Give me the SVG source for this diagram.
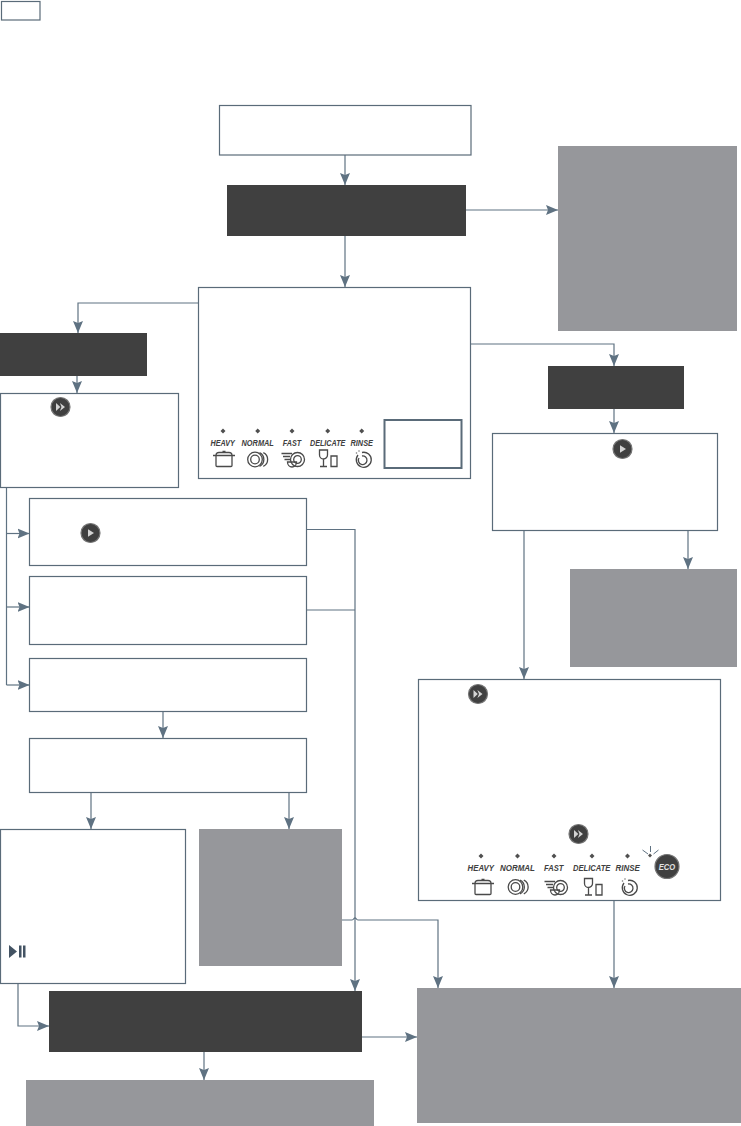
<svg xmlns="http://www.w3.org/2000/svg" width="741" height="1126" viewBox="0 0 741 1126">
<style>
.box{fill:#fff;stroke:#5a6b79;stroke-width:1.2}
.dark{fill:#404040}
.gray{fill:#96979b}
.c{fill:none;stroke:#5f7282;stroke-width:1.2}
.a{marker-end:url(#arrow)}
.lb{font-family:"Liberation Sans",Arial,sans-serif;font-weight:700;font-style:italic;fill:#404040;text-anchor:middle}
.ic{fill:none;stroke:#4a4a4a;stroke-width:1.3}
.btn{fill:#404040;stroke:#757575;stroke-width:1.2}
.gl{fill:#d4d4d4}
.d{fill:#505050}
</style>
<defs>
<marker id="arrow" markerUnits="userSpaceOnUse" markerWidth="13" markerHeight="12" refX="12" refY="6" orient="auto">
<path d="M0 1L12 6L0 11L2 6Z" fill="#5f7282"/>
</marker>
<g id="ff"><circle class="btn" r="9.500"/><path class="gl" d="M-4.500-4L-.2 0L-4.500 4ZM-.6-4L4.500 0L-.6 4L1 0Z"/></g>
<g id="play"><circle class="btn" r="9.500"/><path class="gl" d="M-2.500-3.800L3.500 0L-2.500 3.800Z"/></g>
<g id="pot" class="ic"><path d="M-8-3.500V6.500Q-8 7.500-7 7.500H7Q8 7.500 8 6.500V-3.500M-11-3.500H11M-8-3.500Q-8-6.500-5-6.500H5Q8-6.500 8-3.500M-1.500-7.500H1.500"/></g>
<g id="plates" class="ic"><circle cx="-3.500" r="7.300"/><circle cx="-3.500" r="4.300"/><path d="M1-6.800A7.500 7.500 0 0 1 1 6.800M4.800-6.800A7.500 7.500 0 0 1 4.800 6.800"/></g>
<g id="fast" class="ic"><circle cx="4.500" cy="-.5" r="7"/><circle cx="4.500" cy="-.5" r="3.800"/><path d="M-11.500-6.500H-1M-10-3.500H-3M-8.500-.500H-3M-5.500 2H3.500A4.500 5 0 0 1-5.500 2Z"/></g>
<g id="glass" class="ic"><path d="M-8.500-8.500H-.5L-.5-3.500A4 4 0 0 1-8.500-3.500ZM-4.500 .5V8M-8 8H-1M3-2.500H9V8H3Z"/></g>
<g id="rinse" class="ic"><path d="M-4-5A7.500 7.500 0 1 0 0-7.500"/><path d="M-3-2A4.300 4.300 0 1 0 0-4"/><path d="M-3-9.500v1M-5.500-7.500v1M-6.500-4.500v.1" stroke-width="1.300"/></g>
</defs>

<g id="connectors">
<path class="c a" d="M345 155V185"/>
<path class="c a" d="M466 210H558"/>
<path class="c a" d="M345 236V287"/>
<path class="c a" d="M201 303H78V333"/>
<path class="c a" d="M77 376V393"/>
<path class="c a" d="M470 344H614V366"/>
<path class="c a" d="M614 409V433"/>
<path class="c a" d="M524 530V679"/>
<path class="c a" d="M688 530V569"/>
<path class="c a" d="M614 900V988"/>
<path class="c" d="M6.500 487V685"/>
<path class="c a" d="M6.500 533.500H29.500"/>
<path class="c a" d="M6.500 607H29.500"/>
<path class="c a" d="M6.500 685H29.500"/>
<path class="c a" d="M163 711V738"/>
<path class="c a" d="M91 792V829"/>
<path class="c a" d="M289 792V829"/>
<path class="c a" d="M306 529.500H355V991"/>
<path class="c" d="M306 610H355"/>
<path class="c a" d="M342 920H352Q353 920 354 918.500Q355 917.500 356 918.500Q357 920 358 920H438V988"/>
<path class="c a" d="M18 983V1026H49"/>
<path class="c a" d="M362 1037H417"/>
<path class="c a" d="M204 1052V1080"/>
</g>

<g id="n-tag"><rect class="box" x="1.500" y="1.500" width="38.500" height="18.500"/></g>
<g id="n-start"><rect class="box" x="219.500" y="105.500" width="251.500" height="49.500"/></g>
<g id="n-dark-top"><rect class="dark" x="227" y="185" width="239" height="51"/></g>
<g id="n-gray-top"><rect class="gray" x="558" y="146" width="179" height="185"/></g>
<g id="n-panel">
<rect class="box" x="198.500" y="287.500" width="272" height="191"/>
<rect x="384.500" y="420" width="77" height="48" fill="#fff" stroke="#5a6b79" stroke-width="2"/>
<g font-size="9">
<path class="d" d="M223 428.500l2.500 2.500-2.500 2.500-2.500-2.500ZM257.700 428.500l2.500 2.500-2.500 2.500-2.500-2.500ZM292 428.500l2.500 2.500-2.500 2.500-2.500-2.500ZM327.700 428.500l2.500 2.500-2.500 2.500-2.500-2.500ZM361.700 428.500l2.500 2.500-2.500 2.500-2.500-2.500Z"/>
<text class="lb" transform="translate(222.700 445.500) scale(.8 1)">HEAVY</text>
<text class="lb" transform="translate(257.700 445.500) scale(.82 1)">NORMAL</text>
<text class="lb" transform="translate(292 445.500) scale(.8 1)">FAST</text>
<text class="lb" transform="translate(327.700 445.500) scale(.8 1)">DELICATE</text>
<text class="lb" transform="translate(361.700 445.500) scale(.82 1)">RINSE</text>
</g>
<use href="#pot" x="224" y="459"/>
<use href="#plates" x="258.500" y="459.500"/>
<use href="#fast" x="293" y="460"/>
<use href="#glass" x="328" y="458.500"/>
<use href="#rinse" x="362" y="460"/>
</g>
<g id="n-dark-left"><rect class="dark" x="0" y="333" width="147" height="43"/></g>
<g id="n-left"><rect class="box" x=".5" y="393.500" width="178" height="94"/><use href="#ff" x="60.500" y="407"/></g>
<g id="n-dark-right"><rect class="dark" x="548" y="366" width="136" height="43"/></g>
<g id="n-right"><rect class="box" x="492.500" y="433.500" width="225" height="97"/><use href="#play" x="622.500" y="449"/></g>
<g id="n-gray-right"><rect class="gray" x="570" y="569" width="167" height="98"/></g>
<g id="n-a"><rect class="box" x="29.500" y="498.500" width="277" height="67"/><use href="#play" x="90.500" y="533"/></g>
<g id="n-b"><rect class="box" x="29.500" y="576.500" width="277" height="68"/></g>
<g id="n-c"><rect class="box" x="29.500" y="658.500" width="277" height="53"/></g>
<g id="n-d"><rect class="box" x="29.500" y="738.500" width="277" height="54"/></g>
<g id="n-e">
<rect class="box" x=".5" y="829.500" width="185" height="154"/>
<path fill="#435363" d="M9 945L17 951.500L9 958ZM19 945.500H21.500V957.500H19ZM23 945.500H25.500V957.500H23Z"/>
</g>
<g id="n-gray-mid"><rect class="gray" x="199" y="829" width="143" height="137"/></g>
<g id="n-eco">
<rect class="box" x="418.500" y="679.500" width="302" height="221"/>
<use href="#ff" x="478" y="694"/>
<use href="#ff" x="578.500" y="834"/>
<g font-size="9.500">
<path class="d" d="M481 853.500l2.500 2.500-2.500 2.500-2.500-2.500ZM517.500 853.500l2.500 2.500-2.500 2.500-2.500-2.500ZM554 853.500l2.500 2.500-2.500 2.500-2.500-2.500ZM592 853.500l2.500 2.500-2.500 2.500-2.500-2.500ZM627.500 853.500l2.500 2.500-2.500 2.500-2.500-2.500ZM650 853.500l2 2-2 2-2-2Z"/>
<text class="lb" transform="translate(480.700 871) scale(.82 1)">HEAVY</text>
<text class="lb" transform="translate(517.500 871) scale(.84 1)">NORMAL</text>
<text class="lb" transform="translate(553.700 871) scale(.8 1)">FAST</text>
<text class="lb" transform="translate(591.700 871) scale(.8 1)">DELICATE</text>
<text class="lb" transform="translate(627.700 871) scale(.84 1)">RINSE</text>
</g>
<use href="#pot" x="483" y="887"/>
<use href="#plates" x="519" y="887"/>
<use href="#fast" x="556" y="888"/>
<use href="#glass" x="593" y="887"/>
<use href="#rinse" x="628" y="888"/>
<path fill="none" stroke="#5f7282" stroke-width="1" d="M650.500 846V852M642.500 850L648 854M658.500 850L653.500 854"/>
<circle class="btn" cx="667" cy="866.500" r="12"/>
<text font-family="'Liberation Sans',Arial,sans-serif" font-size="9.500" font-weight="700" font-style="italic" fill="#e2e2e2" text-anchor="middle" transform="translate(667 870) scale(.8 1)">ECO</text>
</g>
<g id="n-dark-bottom"><rect class="dark" x="49" y="991" width="313" height="61"/></g>
<g id="n-gray-bottom-left"><rect class="gray" x="26" y="1080" width="348" height="46"/></g>
<g id="n-gray-bottom-right"><rect class="gray" x="417" y="988" width="324" height="135"/></g>
</svg>
